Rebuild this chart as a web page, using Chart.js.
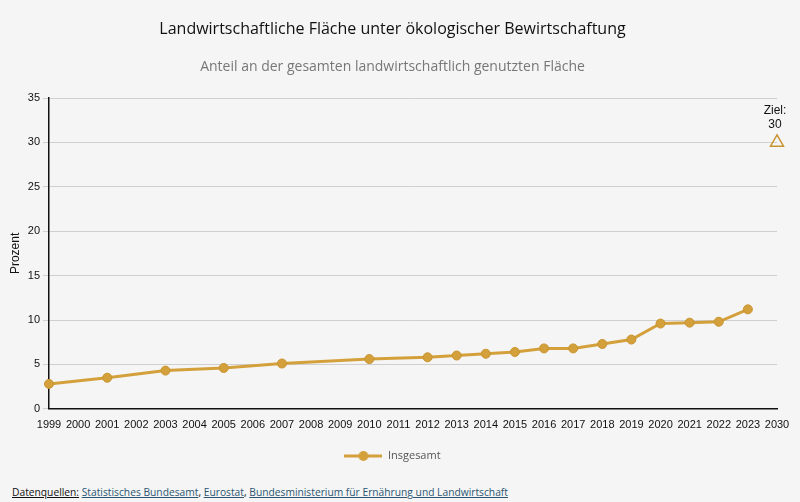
<!DOCTYPE html>
<html lang="de">
<head>
<meta charset="utf-8">
<script src="https://cdn.jsdelivr.net/npm/chart.js@4"></script>
<style>
  html, body { margin: 0; padding: 0; background: #f5f5f5; }
  #wrap { position: absolute; left: 0; top: 0; width: 800px; height: 478px; }
  #quellen {
    position: absolute; left: 12px; top: 485px;
    font: 10.25px "Open Sans", sans-serif; color: #111; white-space: nowrap;
  }
  #quellen a { color: #2b5573; }
  #quellen u { color: #111; }
</style>
</head>
<body>
<div id="wrap"><canvas id="grafik"></canvas></div>
<div id="quellen"><u>Datenquellen:</u> <a href="#">Statistisches Bundesamt</a>, <a href="#">Eurostat</a>, <a href="#">Bundesministerium für Ernährung und Landwirtschaft</a></div>
<script>
// Jahre (Kategorien) und Werte
const jahre = ['1999', '2000', '2001', '2002', '2003', '2004', '2005', '2006', '2007', '2008',
  '2009', '2010', '2011', '2012', '2013', '2014', '2015', '2016', '2017', '2018',
  '2019', '2020', '2021', '2022', '2023', '2030'];
const insgesamt = [2.8, null, 3.5, null, 4.3, null, 4.6, null, 5.1, null,
  null, 5.6, null, 5.8, 6.0, 6.2, 6.4, 6.8, 6.8, 7.3,
  7.8, 9.6, 9.7, 9.8, 11.2, null];
const ziel = [null, null, null, null, null, null, null, null, null, null,
  null, null, null, null, null, null, null, null, null, null,
  null, null, null, null, null, 30];
const yTicks = [0, 5, 10, 15, 20, 25, 30, 35];

const gold = '#d4a03c';

// Legendensymbol: Linie mit Punkt
const symbol = document.createElement('canvas');
symbol.width = 38; symbol.height = 12;
(function () {
  const c = symbol.getContext('2d');
  c.strokeStyle = gold; c.lineWidth = 3;
  c.beginPath(); c.moveTo(0, 6); c.lineTo(38, 6); c.stroke();
  c.fillStyle = gold;
  c.beginPath(); c.arc(19, 6, 5, 0, Math.PI * 2); c.fill();
})();

// Beschriftung "Ziel: 30" über dem Dreieck
const zielLabel = {
  id: 'zielLabel',
  afterDatasetsDraw(chart) {
    const meta = chart.getDatasetMeta(1);
    meta.data.forEach((pt, i) => {
      if (ziel[i] == null) return;
      const ctx = chart.ctx;
      ctx.save();
      ctx.fillStyle = '#111';
      ctx.font = '12px "Liberation Sans", Arial, sans-serif';
      ctx.textAlign = 'center';
      ctx.textBaseline = 'middle';
      ctx.fillText('Ziel:', pt.x - 2, pt.y - 32);
      ctx.fillText(String(ziel[i]), pt.x - 2, pt.y - 18);
      ctx.restore();
    });
  }
};

const tickFont = { family: '"Liberation Sans", Arial, sans-serif', size: 11 };

new Chart(document.getElementById('grafik'), {
  type: 'line',
  data: {
    labels: jahre,
    datasets: [
      {
        label: 'Insgesamt',
        data: insgesamt,
        borderColor: gold,
        backgroundColor: gold,
        pointBackgroundColor: gold,
        pointBorderColor: '#c8942f',
        borderWidth: 3,
        pointRadius: 4.5,
        pointBorderWidth: 1,
        spanGaps: true,
        tension: 0
      },
      {
        label: 'Ziel',
        data: ziel,
        showLine: false,
        pointStyle: 'triangle',
        pointRadius: 7.5,
        borderColor: '#c8942f',
        backgroundColor: 'rgba(0,0,0,0)',
        pointBorderWidth: 1.5
      }
    ]
  },
  options: {
    responsive: true,
    maintainAspectRatio: false,
    animation: false,
    layout: { padding: { top: 20, left: 8, right: 23, bottom: 6.5 } },
    plugins: {
      title: {
        display: true,
        text: 'Landwirtschaftliche Fläche unter ökologischer Bewirtschaftung',
        color: '#111',
        font: { family: '"Open Sans", sans-serif', size: 16, weight: 'normal' },
        padding: { top: 0, bottom: 9 }
      },
      subtitle: {
        display: true,
        text: 'Anteil an der gesamten landwirtschaftlich genutzten Fläche',
        color: '#777',
        font: { family: '"Open Sans", sans-serif', size: 14 },
        padding: { top: 10, bottom: 23 }
      },
      legend: {
        position: 'bottom',
        labels: {
          usePointStyle: true,
          pointStyleWidth: 38,
          color: '#555',
          font: { family: '"Open Sans", sans-serif', size: 11 },
          padding: 8.5,
          filter: item => item.datasetIndex === 0,
          generateLabels: chart => [{
            text: 'Insgesamt',
            pointStyle: symbol,
            datasetIndex: 0,
            fontColor: '#555',
            lineWidth: 0,
            strokeStyle: 'rgba(0,0,0,0)',
            fillStyle: 'rgba(0,0,0,0)'
          }]
        }
      },
      tooltip: { enabled: false }
    },
    scales: {
      x: {
        offset: false,
        grid: { display: false, drawTicks: false },
        border: { color: '#111', width: 1.5 },
        ticks: { color: '#111', font: tickFont, autoSkip: false, maxRotation: 0, padding: 10 }
      },
      y: {
        min: 0,
        max: 35,
        afterBuildTicks: s => { s.ticks = yTicks.map(v => ({ value: v })); },
        afterFit: s => { s.width = 41; },
        grid: { color: '#cfcfcf', tickLength: 6, tickColor: '#cfcfcf' },
        border: { color: '#111', width: 1.5 },
        ticks: { color: '#111', font: tickFont, padding: 3 },
        title: {
          display: true,
          text: 'Prozent',
          color: '#111',
          font: { family: '"Liberation Sans", Arial, sans-serif', size: 12 },
          padding: 0
        }
      }
    }
  },
  plugins: [zielLabel]
});
</script>
</body>
</html>
